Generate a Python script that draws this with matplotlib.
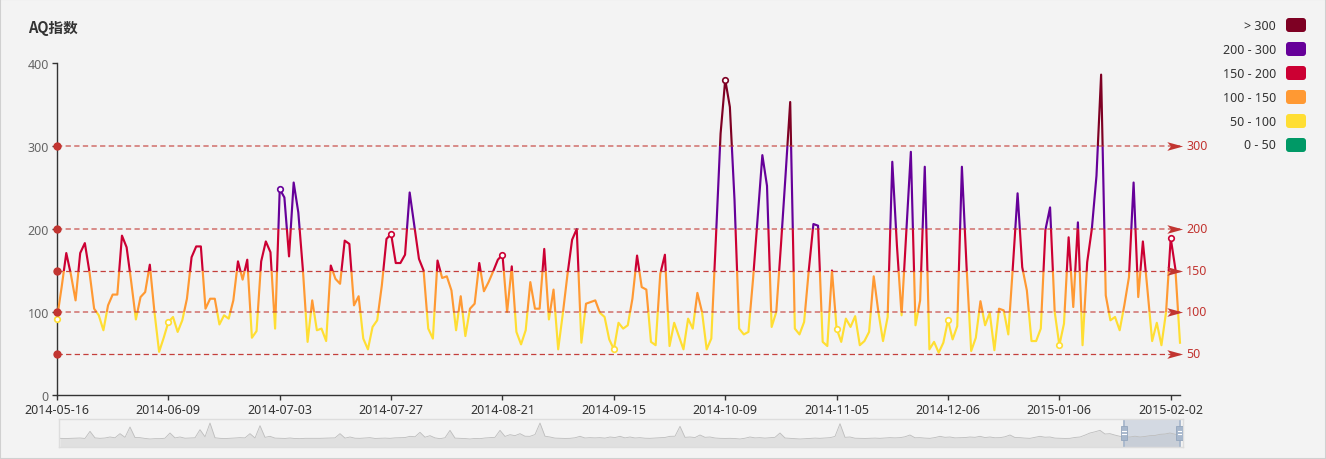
import numpy as np
import matplotlib
matplotlib.use("Agg")
import matplotlib.pyplot as plt
from matplotlib.patches import Rectangle, FancyBboxPatch
from matplotlib.path import Path
from matplotlib.transforms import IdentityTransform, blended_transform_factory

# daily AQI values (2014-05-16 .. 2015-02-05)
aqi = [
    92, 130, 171, 145, 114, 171, 183, 148, 104, 96, 78, 108, 121, 121, 192, 178, 136, 91, 118, 124, 157, 100, 52, 69,
    88, 94, 76, 90, 116, 166, 179, 179, 104, 116, 116, 85, 96, 92, 114, 161, 139, 163, 69, 77, 161, 185, 172, 80,
    248, 238, 167, 256, 220, 150, 64, 114, 78, 80, 65, 156, 140, 134, 186, 182, 108, 119, 68, 55, 82, 90, 132, 188,
    194, 159, 159, 169, 244, 204, 164, 150, 80, 68, 162, 141, 143, 126, 78, 119, 71, 104, 110, 159, 125, 136, 149, 163,
    169, 100, 155, 76, 61, 78, 136, 104, 104, 176, 91, 127, 55, 98, 145, 187, 200, 63, 110, 112, 114, 99, 94, 67,
    55, 87, 80, 84, 116, 168, 130, 127, 64, 60, 146, 169, 59, 87, 71, 55, 92, 80, 123, 100, 55, 68, 190, 315,
    380, 347, 235, 80, 73, 76, 140, 215, 289, 252, 82, 100, 180, 265, 353, 80, 73, 88, 150, 206, 204, 64, 59, 150,
    80, 64, 92, 82, 95, 60, 65, 76, 143, 100, 65, 94, 281, 180, 96, 194, 293, 84, 114, 275, 55, 64, 51, 63,
    90, 67, 83, 275, 155, 53, 69, 113, 84, 99, 54, 104, 102, 73, 156, 243, 154, 126, 65, 65, 80, 199, 226, 100,
    60, 86, 190, 106, 208, 60, 160, 200, 264, 386, 120, 90, 94, 78, 108, 142, 256, 118, 185, 126, 65, 87, 60, 100,
    189, 152, 63,
]
tick_step = 24
tick_labels = ["2014-05-16", "2014-06-09", "2014-07-03", "2014-07-27", "2014-08-21", "2014-09-15",
               "2014-10-09", "2014-11-05", "2014-12-06", "2015-01-06", "2015-02-02"]

# visualMap pieces
piece_lo = [0, 50, 100, 150, 200, 300]
piece_hi = [50, 100, 150, 200, 300, 10000]
piece_labels = ["0 - 50", "50 - 100", "100 - 150", "150 - 200", "200 - 300", "> 300"]
piece_colors = ["#009966", "#ffde33", "#ff9933", "#cc0033", "#660099", "#7e0023"]

mark_values = [50, 100, 150, 200, 300]

# overview series in the dataZoom slider (coarse reading of the whole history)
overview = [
    162, 158, 162, 166, 168, 160, 288, 170, 162, 168, 186, 172, 246, 180, 366, 176, 174, 160, 150, 156,
    156, 164, 258, 170, 186, 164, 168, 172, 318, 190, 438, 172, 162, 158, 162, 168, 174, 170, 246, 168,
    390, 180, 198, 166, 162, 160, 168, 158, 156, 162, 162, 160, 162, 166, 168, 170, 246, 166, 186, 164,
    162, 168, 174, 160, 162, 166, 162, 170, 174, 176, 198, 190, 270, 182, 210, 170,
    156, 172, 306, 166, 162, 158, 150, 160, 156, 168, 174, 180, 306, 196, 228, 210, 246, 200, 198, 230,
    438, 200, 186, 166, 162, 160, 162, 172, 198, 168, 174, 170, 174, 166, 186, 176, 198, 170, 186, 168,
    174, 164, 162, 168, 174, 178, 198, 200, 378, 180, 186, 176, 222, 180, 186, 168, 162, 160, 162, 158,
    150, 164, 186, 170, 174, 166, 174, 180, 258, 168, 162, 158, 150, 156, 162, 166,
    162, 168, 174, 196, 426, 180, 186, 164, 162, 160, 162, 166, 162, 168, 174, 170, 174, 190, 222, 172,
    174, 166, 162, 176, 198, 180, 186, 170, 174, 176, 186, 180, 198, 176, 186, 172, 174, 190, 222, 176,
    174, 166, 162, 180, 198, 182, 186, 166, 162, 160, 162, 178, 186, 220, 258, 280, 306, 240, 246, 220,
    198, 190, 186, 200, 186, 196, 210, 214, 234, 240, 258, 236, 222,
]
zoom_range = (94.75, 99.7)  # percent


def piece_color(v):
    for lo, hi, c in zip(piece_lo, piece_hi, piece_colors):
        if lo < v <= hi:
            return c
    return "#999999"


plt.rcParams["font.family"] = ["Noto Sans", "Noto Sans CJK SC", "DejaVu Sans"]
plt.rcParams["lines.scale_dashes"] = False

W, H = 1326, 460
fig = plt.figure(figsize=(W / 100, H / 100), dpi=100)
fig.patch.set_facecolor("#f3f3f3")

# main chart
ax = fig.add_axes([57 / W, (H - 396) / H, (1180 - 57) / W, 332 / H])
ax.set_facecolor("none")
n = len(aqi)
x = np.arange(n)
ax.set_xlim(0, n - 1)
ax.set_ylim(0, 400)

# line coloured by value band
for lo, hi, c in zip(piece_lo, piece_hi, piece_colors):
    ln, = ax.plot(x, aqi, color=c, lw=1.55, solid_joinstyle="round", zorder=3)
    ln.set_clip_path(Rectangle((-10, lo), n + 20, hi - lo, transform=ax.transData))

# symbols shown at label positions
tick_idx = np.arange(0, n, tick_step)
for i in tick_idx:
    ax.plot(i, aqi[i], "o", ms=4, mfc="white", mec=piece_color(aqi[i]), mew=1.2,
            zorder=5, clip_on=False)

# mark lines
arrow = Path([(0.2, 0), (-1, 0.33), (-0.72, 0), (-1, -0.33), (0.2, 0)],
             [Path.MOVETO, Path.LINETO, Path.LINETO, Path.LINETO, Path.CLOSEPOLY])
mark_col = "#c23531"
for v in mark_values:
    faint = v in (100, 200, 300)
    ax.plot([0, n - 1], [v, v], color=mark_col, lw=1.4 if faint else 0.9,
            alpha=0.55 if faint else 0.95, dashes=(3.8, 2.4), zorder=4, clip_on=False)
    ax.plot(0, v, "o", color=mark_col, ms=6, mew=0, zorder=6, clip_on=False)
    ax.plot(n - 1, v, marker=arrow, color=mark_col, ms=19, mew=0, zorder=6, clip_on=False)
    ax.annotate(str(v), (n - 1, v), xytext=(4.5, 0), textcoords="offset points",
                ha="left", va="center", fontsize=9, color=mark_col)

for s in ["top", "right"]:
    ax.spines[s].set_visible(False)
for s in ["left", "bottom"]:
    ax.spines[s].set_color("#333333")
    ax.spines[s].set_linewidth(1)

ax.set_yticks([0, 100, 200, 300, 400])
ax.tick_params(axis="y", length=3.6, width=1, color="#333333", labelcolor="#666666",
               labelsize=9, pad=2.2)
ax.set_xticks(tick_idx)
ax.set_xticklabels(tick_labels[:len(tick_idx)])
ax.tick_params(axis="x", length=3.6, width=1, color="#333333", labelcolor="#333333",
               labelsize=9, pad=2.2)

# title
fig.text(28 / W, 1 - 28 / H, "AQ指数", fontsize=10.5, fontweight="bold", color="#333333",
         va="center", ha="left", family=["Noto Sans CJK SC", "DejaVu Sans"])

# piecewise legend (top item = highest band)
for k, (lab, c) in enumerate(zip(piece_labels[::-1], piece_colors[::-1])):
    yc = 26 + 24 * k
    box = FancyBboxPatch((1286, H - yc - 7), 20, 14, boxstyle="round,pad=0,rounding_size=3",
                         fc=c, ec="none", transform=IdentityTransform())
    fig.add_artist(box)
    fig.text(1276 / W, 1 - yc / H, lab, ha="right", va="center", fontsize=9, color="#333333")

# dataZoom slider
sax = fig.add_axes([59 / W, (H - 448.3) / H, (1183 - 59) / W, 28.6 / H])
sax.set_facecolor("none")
xo = np.arange(len(overview))
sax.set_xlim(-0.2, len(overview) - 1 + 0.6)
sax.set_ylim(0, 516)
sax.fill_between(xo, overview, color="#e0e0e0", lw=0)
sax.plot(xo, overview, color="#bdbdbd", lw=0.6)
sax.set_xticks([])
sax.set_yticks([])
for s in sax.spines.values():
    s.set_color("#dddddd")
    s.set_linewidth(1)

xl = sax.get_xlim()
xs = xl[0] + zoom_range[0] / 100 * (xl[1] - xl[0])
xe = xl[0] + zoom_range[1] / 100 * (xl[1] - xl[0])
sax.axvspan(xs, xe, color="#a7b7cc", alpha=0.42, lw=0)
bt = blended_transform_factory(sax.transData, sax.transAxes)
for xh in (xs, xe):
    sax.axvline(xh, color="#a7b7cc", lw=1.3)
    sax.add_patch(Rectangle((xh - 0.64, 0.27), 1.28, 0.46, transform=bt, fc="#a7b7cc",
                            ec="#94a6bd", lw=0.6, zorder=5))
    for yy in (0.45, 0.56):
        sax.plot([xh - 0.36, xh + 0.36], [yy, yy], transform=bt, color="white", lw=0.8, zorder=6)

# outer border
fig.add_artist(Rectangle((0, 0), 1, 1, transform=fig.transFigure, fill=False,
                         ec="#d0d0d0", lw=1.5))

fig.savefig("out.png", dpi=100, facecolor=fig.get_facecolor())
